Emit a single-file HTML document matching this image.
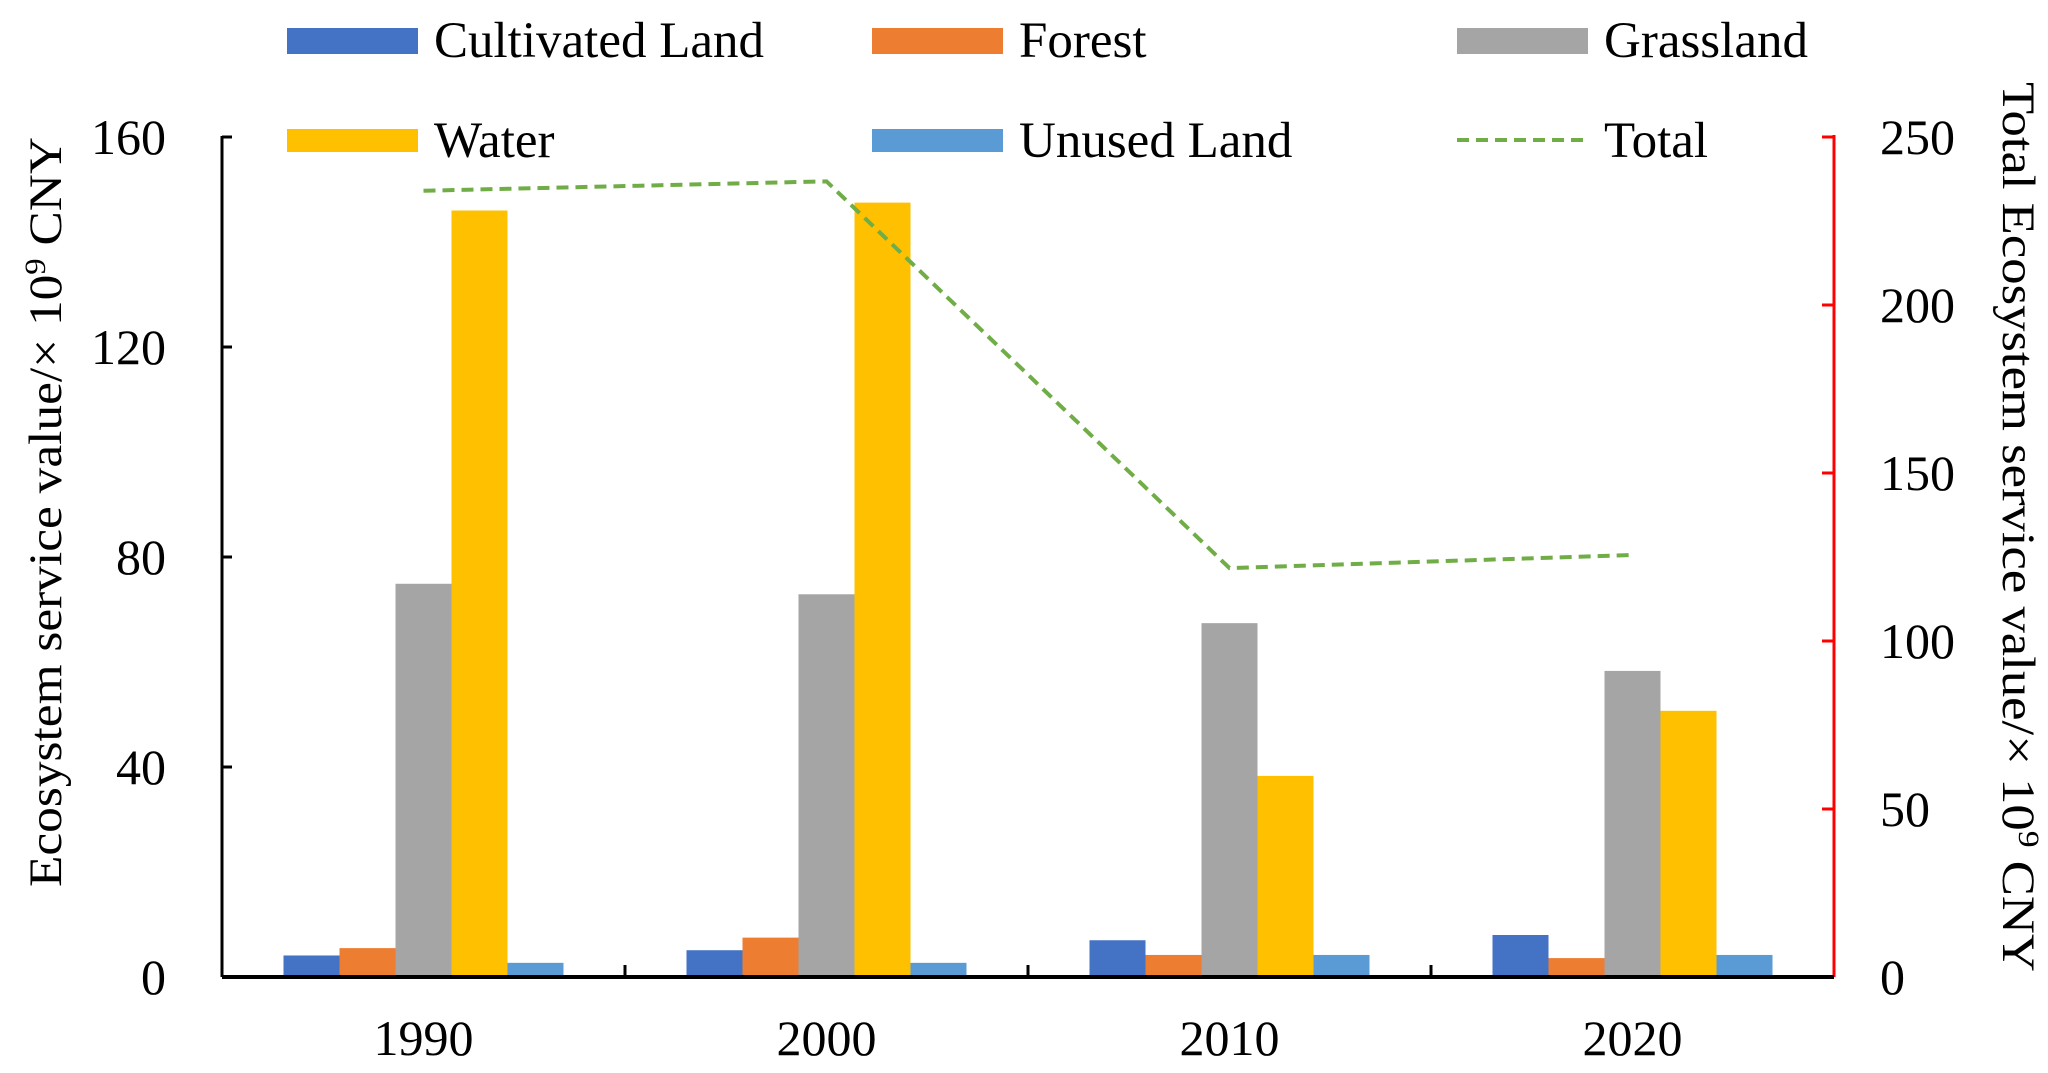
<!DOCTYPE html>
<html><head><meta charset="utf-8"><style>
html,body{margin:0;padding:0;background:#fff;}
svg{display:block;font-family:"Liberation Serif","Times New Roman",serif;}
</style></head><body>
<svg id="chart" width="2048" height="1073" viewBox="0 0 2048 1073" xmlns="http://www.w3.org/2000/svg">
<g id="legend">
  <g><rect x="287" y="28" width="131" height="26" fill="#4472C4"/><text x="434" y="57" font-size="51">Cultivated Land</text></g>
  <g><rect x="872" y="28" width="131" height="26" fill="#ED7D31"/><text x="1019" y="57" font-size="51">Forest</text></g>
  <g><rect x="1457" y="28" width="131" height="26" fill="#A5A5A5"/><text x="1604" y="57" font-size="51">Grassland</text></g>
  <g><rect x="287" y="129" width="131" height="23" fill="#FFC000"/><text x="434" y="157" font-size="51">Water</text></g>
  <g><rect x="872" y="129" width="131" height="23" fill="#5B9BD5"/><text x="1019" y="157" font-size="51">Unused Land</text></g>
  <g><line x1="1457" y1="140" x2="1588" y2="140" stroke="#70AD47" stroke-width="4" stroke-dasharray="12 7"/><text x="1604" y="157" font-size="51">Total</text></g>
</g>
<g id="bars"></g>
<g id="axes"></g>
<path id="total-line" fill="none" stroke="#70AD47" stroke-width="4" stroke-dasharray="12 7"/>
<text font-size="47" text-anchor="middle" textLength="750" lengthAdjust="spacingAndGlyphs" transform="translate(61,512) rotate(-90)">Ecosystem service value/× 10<tspan baseline-shift="super" font-size="30">9</tspan> CNY</text>
<text font-size="47" text-anchor="middle" textLength="890" lengthAdjust="spacingAndGlyphs" transform="translate(2003,527) rotate(90)">Total Ecosystem service value/× 10<tspan baseline-shift="super" font-size="30">9</tspan> CNY</text>
</svg>
<script>
const categories = ["1990","2000","2010","2020"];
const seriesNames = ["Cultivated Land","Forest","Grassland","Water","Unused Land"];
const cultivated = [4.1, 5.1, 7.0, 8.0];
const forest = [5.5, 7.5, 4.2, 3.6];
const grassland = [74.9, 72.9, 67.4, 58.3];
const water = [146, 147.5, 38.3, 50.7];
const unused = [2.7, 2.7, 4.2, 4.2];
const total = [234, 236.8, 121.7, 125.6];
const leftTicks = [0, 40, 80, 120, 160];
const rightTicks = [0, 50, 100, 150, 200, 250];

const colors = ["#4472C4","#ED7D31","#A5A5A5","#FFC000","#5B9BD5"];
const X0 = 222, X1 = 1834, Y0 = 977, Ytop = 137;
const yL = v => Y0 - (v / 160) * (Y0 - Ytop);
const yR = v => Y0 - (v / 250) * (Y0 - Ytop);
const band = (X1 - X0) / categories.length;
const xC = i => X0 + band * (i + 0.5);
const barW = 56;
const NS = "http://www.w3.org/2000/svg";
function mk(tag, attrs, parent) {
  const e = document.createElementNS(NS, tag);
  for (const k in attrs) e.setAttribute(k, attrs[k]);
  parent.appendChild(e);
  return e;
}
const bars = document.getElementById("bars");
const allSeries = [cultivated, forest, grassland, water, unused];
allSeries.forEach((s, si) => {
  s.forEach((v, i) => {
    const x = xC(i) - barW * 2.5 + si * barW;
    const r = mk("rect", {x: x, y: yL(v), width: barW, height: Y0 - yL(v), fill: colors[si]}, bars);
    
    
  });
});
const ax = document.getElementById("axes");
let l = mk("line", {x1: X0, y1: Ytop - 1, x2: X0, y2: Y0, stroke: "#000", "stroke-width": 3}, ax);


leftTicks.forEach(v => {
  mk("line", {x1: X0, y1: yL(v), x2: X0 + 10, y2: yL(v), stroke: "#000", "stroke-width": 3}, ax);
  const t = mk("text", {x: 166, y: yL(v) + 17, "font-size": 50, "text-anchor": "end"}, ax);
  t.textContent = v;
  
  
});
l = mk("line", {x1: X1, y1: Ytop - 2, x2: X1, y2: Y0, stroke: "#FF0000", "stroke-width": 3}, ax);


rightTicks.forEach(v => {
  mk("line", {x1: X1 - 12, y1: yR(v), x2: X1, y2: yR(v), stroke: "#FF0000", "stroke-width": 3}, ax);
  const t = mk("text", {x: 1880, y: yR(v) + 17, "font-size": 50}, ax);
  t.textContent = v;
  
  
});
l = mk("line", {x1: X0, y1: Y0, x2: X1, y2: Y0, stroke: "#000", "stroke-width": 4}, ax);


for (let i = 1; i < categories.length; i++) {
  mk("line", {x1: X0 + band * i, y1: Y0, x2: X0 + band * i, y2: Y0 - 12, stroke: "#000", "stroke-width": 3}, ax);
}
categories.forEach((c, i) => {
  const t = mk("text", {x: xC(i), y: 1055, "font-size": 50, "text-anchor": "middle"}, ax);
  t.textContent = c;
  
  
});
document.getElementById("total-line").setAttribute("d",
  total.map((v, i) => (i ? "L" : "M") + xC(i) + "," + yR(v)).join(" "));
</script>
</body></html>
